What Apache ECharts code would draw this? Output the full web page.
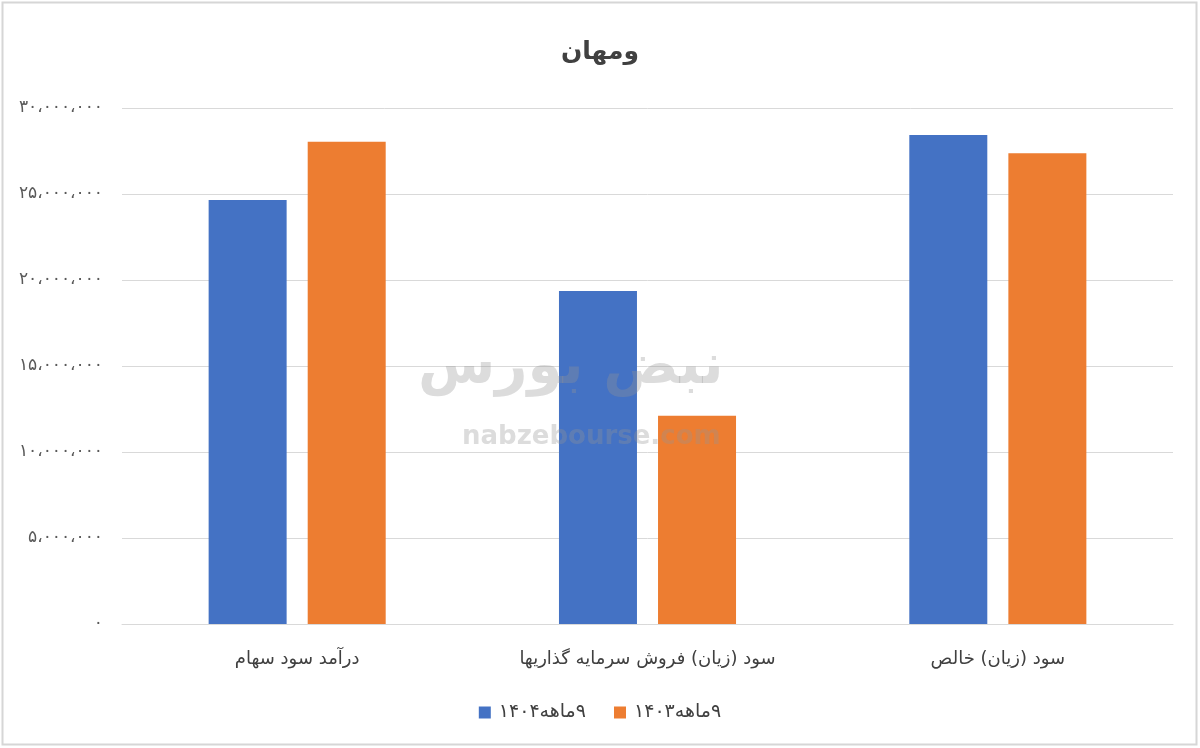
<!DOCTYPE html>
<html>
<head>
<meta charset="utf-8">
<script src="https://cdn.jsdelivr.net/npm/echarts@6/dist/echarts.min.js"></script>
<style>
html,body{margin:0;padding:0;background:#fff;}
#chart{width:1200px;height:748px;}
</style>
</head>
<body>
<div id="chart"></div>
<script>
const titleText = 'ومهان';
const categories = ['درآمد سود سهام', 'سود (زیان) فروش سرمایه گذاریها', 'سود (زیان) خالص'];
const seriesNames = ['\u200F۹ماهه۱۴۰۴', '\u200F۹ماهه۱۴۰۳'];
const values1404 = [24650000, 19360000, 28430000];
const values1403 = [28040000, 12110000, 27370000];
const yTickLabels = ['۰', '۵،۰۰۰،۰۰۰', '۱۰،۰۰۰،۰۰۰', '۱۵،۰۰۰،۰۰۰', '۲۰،۰۰۰،۰۰۰', '۲۵،۰۰۰،۰۰۰', '۳۰،۰۰۰،۰۰۰'];

const FONT = "'DejaVu Sans', 'Noto Sans', sans-serif";
const chart = echarts.init(document.getElementById('chart'), null, {renderer: 'canvas'});
chart.setOption({
  backgroundColor: '#ffffff',
  animation: false,
  title: {
    text: titleText,
    left: 'center',
    top: 35,
    textStyle: {fontFamily: FONT, fontSize: 25, fontWeight: 'bold', color: '#404040'}
  },
  legend: {
    bottom: 21,
    left: 'center',
    itemWidth: 12,
    itemHeight: 12,
    itemGap: 28,
    icon: 'rect',
    data: seriesNames,
    textStyle: {fontFamily: FONT, fontSize: 19, color: '#404040', padding: [0, 0, 0, 3]}
  },
  grid: {left: 122, right: 27, top: 108, bottom: 124, containLabel: false},
  xAxis: {
    type: 'category',
    data: categories,
    axisLine: {show: true, lineStyle: {color: '#d9d9d9', width: 1}},
    axisTick: {show: false},
    axisLabel: {margin: 26, fontFamily: FONT, fontSize: 18, color: '#404040'}
  },
  yAxis: {
    type: 'value',
    min: 0,
    max: 30000000,
    interval: 5000000,
    axisLine: {show: false},
    axisTick: {show: false},
    splitLine: {lineStyle: {color: '#d9d9d9', width: 1}},
    axisLabel: {
      margin: 19,
      fontFamily: FONT,
      fontSize: 17,
      color: '#595959',
      formatter: function (v) { return yTickLabels[Math.round(v / 5000000)]; }
    }
  },
  series: [
    {name: seriesNames[0], type: 'bar', data: values1404, itemStyle: {color: '#4472C4'}, barWidth: 78, barGap: '27%'},
    {name: seriesNames[1], type: 'bar', data: values1403, itemStyle: {color: '#ED7D31'}, barWidth: 78, barGap: '27%'}
  ],
  graphic: [
    {type: 'rect', z: 100, silent: true, shape: {x: 2.5, y: 2.5, width: 1194, height: 742},
     style: {fill: 'none', stroke: '#d6d6d6', lineWidth: 2}},
    {type: 'text', z: 100, silent: true, left: 418, top: 340,
     style: {text: 'نبض بورس', fontFamily: FONT, fontSize: 56, fontWeight: 'bold', fill: 'rgba(150,150,150,0.33)'}},
    {type: 'text', z: 100, silent: true, left: 462, top: 424,
     style: {text: 'nabzebourse.com', fontFamily: FONT, fontSize: 26, fontWeight: 'bold', fill: 'rgba(150,150,150,0.33)'}}
  ]
});
</script>
</body>
</html>
